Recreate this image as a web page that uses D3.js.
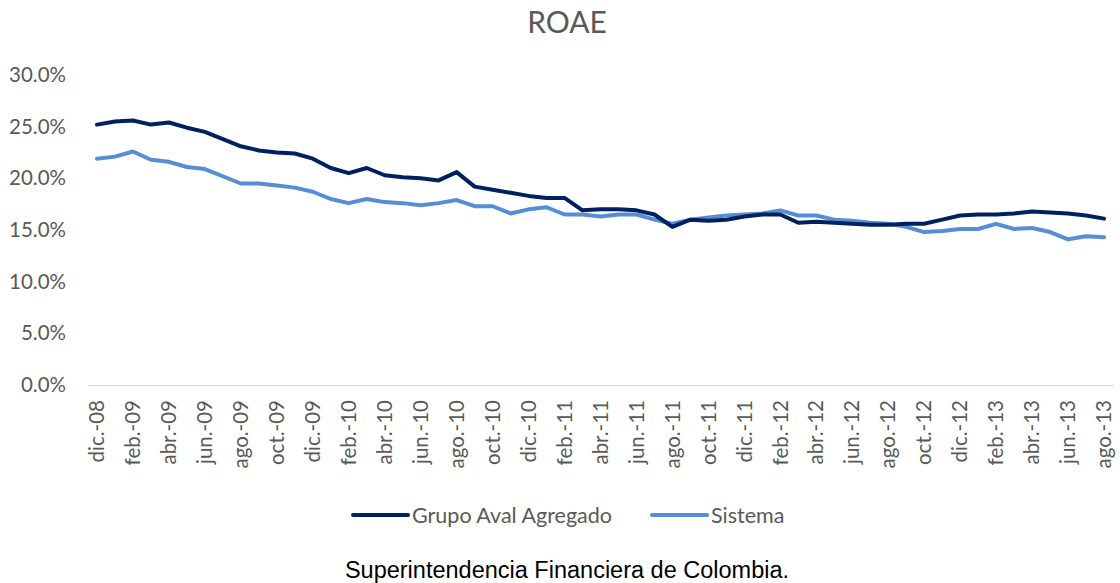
<!DOCTYPE html>
<html>
<head>
<meta charset="utf-8">
<script src="https://cdn.jsdelivr.net/npm/d3@7"></script>
<style>
  body { margin: 0; background: #fff; }
  svg { display: block; }
</style>
</head>
<body>
<svg id="chart"></svg>
<script>
// Meses dic-08 .. ago-13
const monthNames = ["ene.", "feb.", "mar.", "abr.", "may.", "jun.", "jul.", "ago.", "sep.", "oct.", "nov.", "dic."];
const months = [];
for (let k = 0; k < 57; k++) {
    const m = (11 + k) % 12;
    const y = 8 + Math.floor((11 + k) / 12);
    months.push(monthNames[m] + "-" + String(y).padStart(2, "0"));
}

const grupoAval = [
    25.2, 25.5, 25.6, 25.2, 25.4, 24.9, 24.5, 23.8, 23.1, 22.7,
    22.5, 22.4, 21.9, 21.0, 20.5, 21.0, 20.3, 20.1, 20.0, 19.8,
    20.6, 19.2, 18.9, 18.6, 18.3, 18.1, 18.1, 16.9, 17.0, 17.0,
    16.9, 16.5, 15.3, 16.0, 15.9, 16.0, 16.3, 16.5, 16.5, 15.7,
    15.8, 15.7, 15.6, 15.5, 15.5, 15.6, 15.6, 16.0, 16.4, 16.5,
    16.5, 16.6, 16.8, 16.7, 16.6, 16.4, 16.1
];

const sistema = [
    21.9, 22.1, 22.6, 21.8, 21.6, 21.1, 20.9, 20.2, 19.5, 19.5,
    19.3, 19.1, 18.7, 18.0, 17.6, 18.0, 17.7, 17.6, 17.4, 17.6,
    17.9, 17.3, 17.3, 16.6, 17.0, 17.2, 16.5, 16.5, 16.3, 16.5,
    16.5, 16.0, 15.6, 16.0, 16.2, 16.4, 16.5, 16.6, 16.9, 16.4,
    16.4, 16.0, 15.9, 15.7, 15.6, 15.3, 14.8, 14.9, 15.1, 15.1,
    15.6, 15.1, 15.2, 14.8, 14.1, 14.4, 14.3
];

const yTicks = [0, 5, 10, 15, 20, 25, 30];

const series = [
    { name: "Grupo Aval Agregado", values: grupoAval, color: "#002060" },
    { name: "Sistema", values: sistema, color: "#558ED5" }
];

const W = 1120, H = 583;
const svg = d3.select("#chart").attr("width", W).attr("height", H);
const font = "Lato, 'Open Sans', sans-serif";

const x = d3.scaleBand().domain(months).range([88, 1113]);
const y = d3.scaleLinear().domain([0, 30]).range([385, 75]);
const cx = d => x(d) + x.bandwidth() / 2;

// Title
svg.append("text")
    .attr("x", 567).attr("y", 33)
    .attr("text-anchor", "middle")
    .style("font-family", font).style("font-size", "30px")
    .attr("fill", "#595959")
    .text("ROAE");

// Y axis labels
svg.append("g")
    .attr("transform", "translate(66,0)")
    .call(d3.axisLeft(y).tickValues(yTicks).tickSize(0).tickPadding(0).tickFormat(d => d.toFixed(1) + "%"))
    .call(g => g.select(".domain").remove())
    .selectAll("text")
    .style("font-family", font).style("font-size", "20.5px")
    .attr("fill", "#595959");

// Baseline + X axis
const xAxis = svg.append("g")
    .attr("transform", "translate(0,385)")
    .call(d3.axisBottom(x).tickValues(months.filter((d, i) => i % 2 === 0)).tickSize(0).tickPadding(0));
xAxis.select(".domain").attr("stroke", "#d9d9d9").attr("stroke-width", 1);
xAxis.selectAll("text")
    .style("font-family", font).style("font-size", "20.5px")
    .attr("fill", "#595959")
    .attr("transform", "rotate(-90)")
    .attr("x", -15).attr("y", 0).attr("dy", "0.35em")
    .style("text-anchor", "end");

// Lines
const line = d3.line()
    .x((d, i) => cx(months[i]))
    .y(d => y(d));

svg.selectAll(".serie")
    .data(series.slice().reverse())
    .join("path")
    .attr("class", "serie")
    .attr("d", d => line(d.values))
    .attr("fill", "none")
    .attr("stroke", d => d.color)
    .attr("stroke-width", 4)
    .attr("stroke-linejoin", "round")
    .attr("stroke-linecap", "round");

// Legend
const legendPos = [353, 652];
const legend = svg.selectAll(".legend")
    .data(series)
    .join("g")
    .attr("class", "legend")
    .attr("transform", (d, i) => `translate(${legendPos[i]},515)`);
legend.append("line")
    .attr("x1", 0).attr("x2", 55)
    .attr("stroke", d => d.color).attr("stroke-width", 4)
    .attr("stroke-linecap", "round");
legend.append("text")
    .attr("x", 59).attr("dy", "0.35em")
    .style("font-family", font).style("font-size", "21.5px")
    .attr("fill", "#595959")
    .text(d => d.name);

// Source
svg.append("text")
    .attr("x", 567).attr("y", 578)
    .attr("text-anchor", "middle")
    .style("font-family", "'Liberation Sans', Arial, sans-serif").style("font-size", "23.5px")
    .attr("fill", "#000")
    .text("Superintendencia Financiera de Colombia.");
</script>
</body>
</html>
